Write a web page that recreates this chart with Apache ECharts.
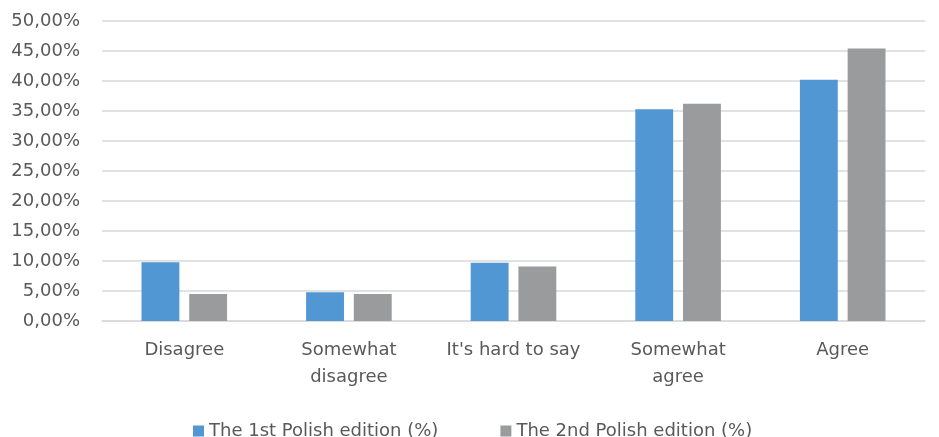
<!DOCTYPE html>
<html>
<head>
<meta charset="utf-8">
<script src="https://cdn.jsdelivr.net/npm/echarts@6/dist/echarts.min.js"></script>
<style>html,body{margin:0;padding:0;background:#fff}#c{width:939px;height:437px}</style>
</head>
<body>
<div id="c"></div>
<script>
const categories = ["Disagree", "Somewhat disagree", "It's hard to say", "Somewhat agree", "Agree"];
const seriesNames = ["The 1st Polish edition (%)", "The 2nd Polish edition (%)"];
const edition1 = [9.8, 4.8, 9.7, 35.3, 40.2];
const edition2 = [4.5, 4.5, 9.1, 36.2, 45.4];
const yTicks = { min: 0, max: 50, interval: 5 };

const chart = echarts.init(document.getElementById('c'), null, { renderer: 'canvas' });
const font = 'DejaVu Sans';
chart.setOption({
  animation: false,
  backgroundColor: '#ffffff',
  grid: { left: 102, right: 14, top: 21, bottom: 116 },
  legend: {
    top: 417,
    left: 188,
    itemWidth: 11,
    itemHeight: 11,
    itemGap: 62,
    icon: 'rect',
    textStyle: { fontFamily: font, fontSize: 18, color: '#595959' },
    data: seriesNames
  },
  xAxis: {
    type: 'category',
    data: categories,
    axisLine: { lineStyle: { color: '#d9d9d9', width: 1.5 } },
    axisTick: { show: false },
    axisLabel: {
      fontFamily: font, fontSize: 18, color: '#595959', margin: 16, lineHeight: 27,
      interval: 0,
      formatter: v => v.replace('Somewhat ', 'Somewhat\n')
    }
  },
  yAxis: {
    type: 'value',
    min: yTicks.min, max: yTicks.max, interval: yTicks.interval,
    axisLine: { show: false },
    axisTick: { show: false },
    splitLine: { lineStyle: { color: '#d9d9d9', width: 1.5 } },
    axisLabel: {
      fontFamily: font, fontSize: 18, color: '#595959', margin: 22,
      formatter: v => v.toFixed(2).replace('.', ',') + '%'
    }
  },
  series: [
    { name: seriesNames[0], type: 'bar', data: edition1, barGap: '26%', barCategoryGap: '48%',
      itemStyle: { color: '#5197d3' } },
    { name: seriesNames[1], type: 'bar', data: edition2,
      itemStyle: { color: '#999b9c' } }
  ]
});
</script>
</body>
</html>
